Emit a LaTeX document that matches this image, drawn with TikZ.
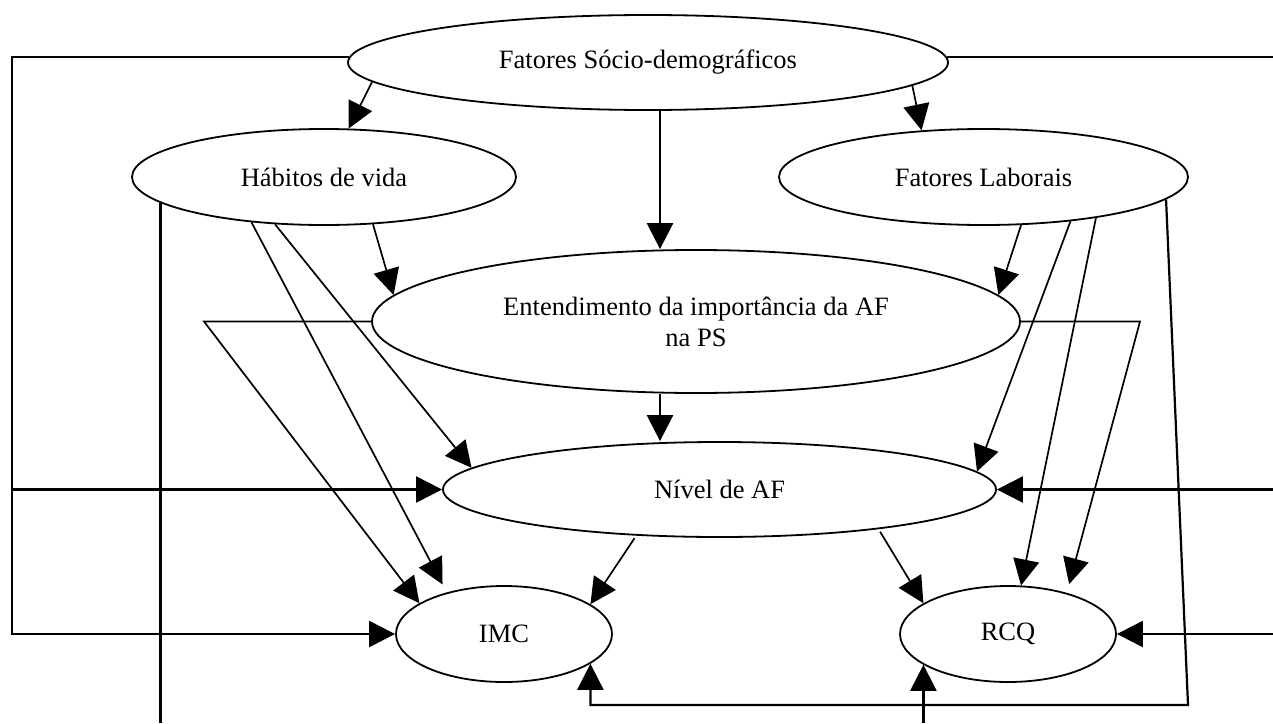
\documentclass[tikz,border=0pt]{standalone}
\usepackage{fontspec}
\setmainfont{Liberation Serif}
\usetikzlibrary{arrows.meta,shapes.geometric,calc}
\begin{document}
\begin{tikzpicture}[x=1pt,y=-1pt,
  box/.style={draw, ellipse, line width=1.8pt, inner sep=0pt,
    font=\fontsize{26.5}{31}\selectfont, align=center},
  arr/.style={-{Triangle[length=26pt,width=26pt]}},
  ln/.style={line width=2.2pt},
  dg/.style={line width=1.7pt},
  vt/.style={line width=2.6pt}]
\useasboundingbox (0,0) rectangle (1273,723);
% nodes
\node[box, minimum width=600pt, minimum height=95pt] (FSD) at (648,62.5) {Fatores Sócio-demográficos};
\node[box, minimum width=384pt, minimum height=96pt] (HV) at (324,177) {Hábitos de vida};
\node[box, minimum width=409pt, minimum height=96pt] (FL) at (983.5,177) {Fatores Laborais};
\node[box, minimum width=648pt, minimum height=143pt] (EI) at (696,321.5) {Entendimento da importância da AF\\na PS};
\node[box, minimum width=553pt, minimum height=95pt] (NAF) at (719.5,489.5) {Nível de AF};
\node[box, minimum width=216pt, minimum height=96pt] (IMC) at (504,634) {IMC};
\node[box, minimum width=216pt, minimum height=96pt] (RCQ) at (1008,634) {RCQ};
% helper coordinates
\coordinate (L) at (12,0);
\coordinate (R) at (1273,0);
\coordinate (B) at (0,723);
\coordinate (C) at (660,0);
\coordinate (EL) at (204,322);
\coordinate (ER) at (1140,322);
\coordinate (K) at (1188,705);
% outer frame lines
\draw[ln,arr] (FSD.179) -| (L |- IMC.west) -- (IMC.west);
\draw[ln,arr] (L |- NAF.west) -- (NAF.west);
\draw[ln] (FSD.1) -- (FSD.1 -| R);
\draw[ln,arr] (R |- NAF.east) -- (NAF.east);
\draw[ln,arr] (R |- RCQ.east) -- (RCQ.east);
% central verticals
\draw[vt,arr] (FSD.south -| C) -- (EI.north -| C);
\draw[vt,arr] (EI.south -| C) -- (NAF.north -| C);
% diagonals
\draw[dg,arr] (FSD.-176) -- (HV.63.2);
\draw[dg,arr] (FSD.-5.55) -- (FL.143.3);
\draw[dg,arr] (HV.-44.1) -- (EI.175);
\draw[dg,arr] (FL.-52.3) -- (EI.5);
\draw[dg,arr] (HV.-136.6) -- (NAF.175.3);
\draw[dg,arr,shorten >=9pt] (HV.-148.3) -- (IMC.144.2);
\draw[dg,arr] (EI.west) -- (EL |- EI.west) -- (IMC.160.8);
\draw[dg,arr,shorten >=9pt] (EI.east) -- (ER |- EI.east) -- (RCQ.35.1);
\draw[dg,arr] (FL.-27.7) -- (NAF.4.65);
\draw[dg,arr] (FL.-20.6) -- (RCQ.75.9);
\draw[dg,arr,shorten <=3pt] (NAF.-151.5) -- (IMC.19.4);
\draw[dg,arr,shorten <=3pt] (NAF.-14.06) -- (RCQ.160.8);
% bottom routing
\draw[ln,arr] (FL.-7.93) -- (K) -- (IMC.-19.8 |- K) -- (IMC.-19.8);
\draw[ln] (HV.-171.5) -- (HV.-171.5 |- B);
\draw[ln,arr] (RCQ.-160.2 |- B) -- (RCQ.-160.2);
\end{tikzpicture}
\end{document}
